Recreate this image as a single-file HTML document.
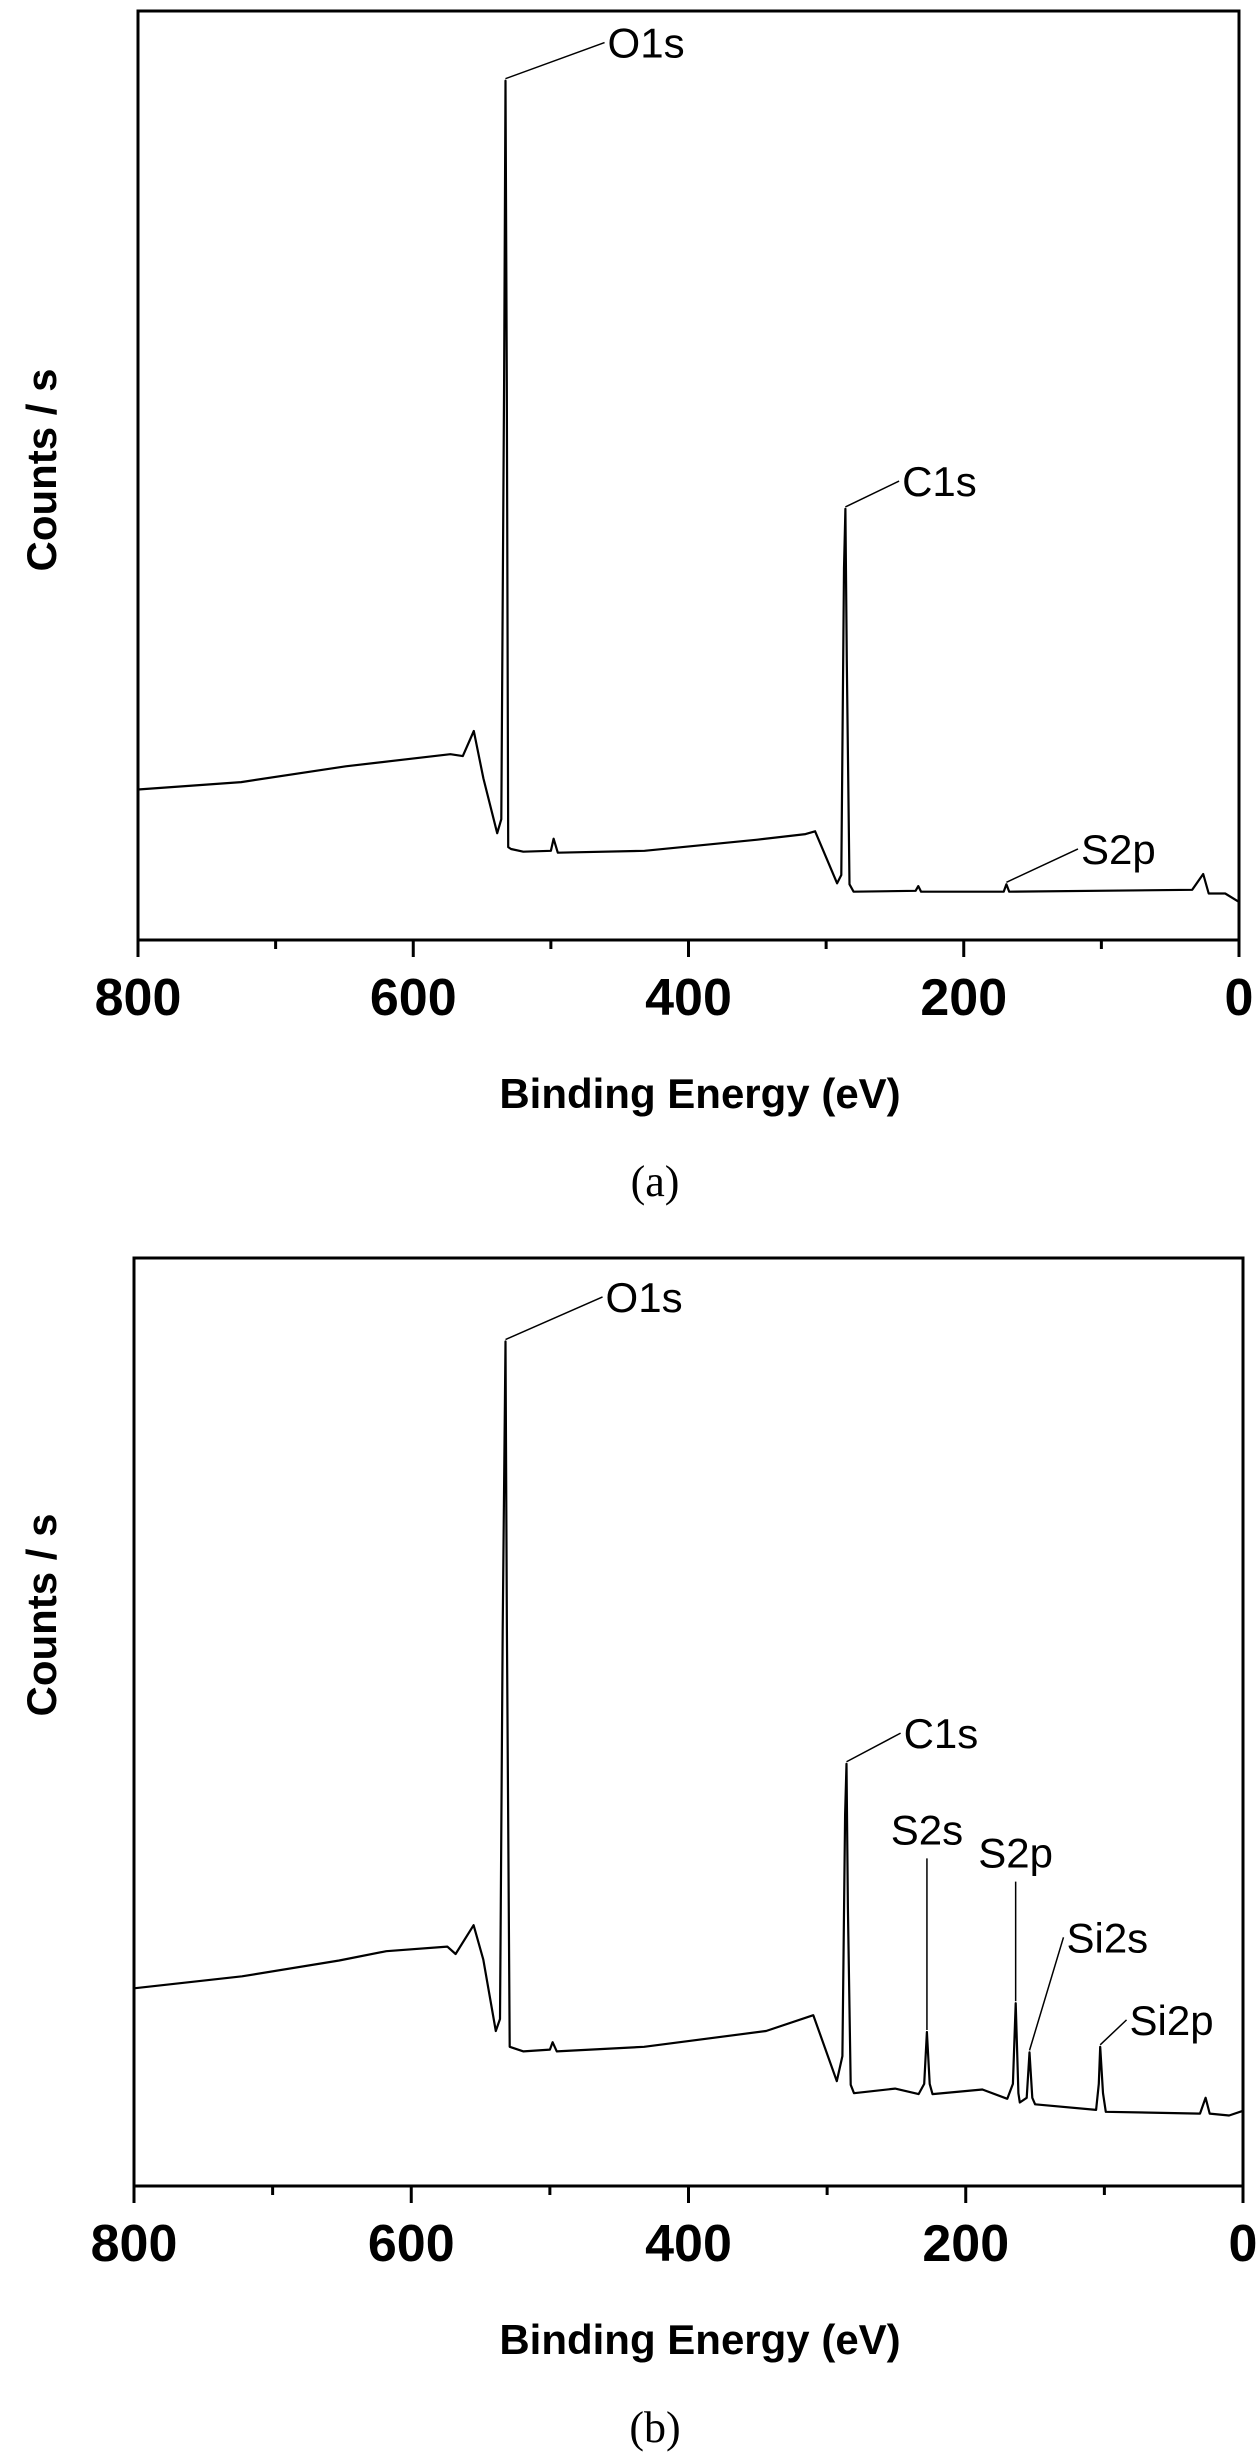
<!DOCTYPE html>
<html><head><meta charset="utf-8"><style>
body{margin:0;background:#fff}
svg{display:block}
text{font-family:"Liberation Sans",Arial,sans-serif;fill:#000}
</style></head><body>
<svg id="fig" width="1260" height="2456" viewBox="0 0 1260 2456" xmlns="http://www.w3.org/2000/svg"></svg>
<script>
const xTicks = [800, 600, 400, 200, 0];
const xMinor = [700, 500, 300, 100];
const tickLabels = ["800", "600", "400", "200", "0"];
const energiesA = [800,725,649,573,564,556,549,539,536,534,533,532,531,529,520,500,498,495,432,350,315,308,292,289,287,286,285,283,280,235,233,231,171,169,167,34,26,22,10,0];
const countsA   = [16.2,17.0,18.7,20.0,19.8,22.5,17.4,11.5,13,60,92.5,60,10,9.8,9.5,9.6,10.9,9.4,9.6,10.8,11.4,11.7,6.1,7,40,46.4,30,6,5.2,5.3,5.8,5.2,5.2,6.0,5.2,5.4,7.1,5.0,5.0,4.1];
const energiesB = [800,722,652,618,574,568,555,548,539,536,534,532,531,529,519,500,498,495,432,344,310,293,289,287,286,285,283,280.6,251,234,230,228,226,224,188,170,166,164,162,161,156,154,152,150,106,104,103,101,99,31,27,24,10,0];
const countsB   = [21.3,22.6,24.3,25.3,25.8,25,28.1,24.4,16.7,18,60,91,60,15,14.5,14.7,15.5,14.5,15.0,16.7,18.4,11.3,14,40,45.5,30,10.9,10.0,10.5,9.9,11,16.6,11,9.9,10.4,9.4,11,19.7,10,9.0,9.5,14.4,9.5,8.8,8.2,11,15.0,10,8.0,7.8,9.5,7.8,7.6,8.1];
const annotNamesA = ["O1s","C1s","S2p"];
const annotPeakA = [[533,92.5],[286,46.4],[169,6.0]];
const annotTextA = [[461,96.6],[247,49.4],[117,9.8]];
const annotNamesB = ["O1s","C1s","S2s","S2p","Si2s","Si2p"];
const annotPeakB = [[532,91],[286,45.5],[228,16.6],[164,19.7],[154,14.4],[103,15.0]];
const annotTextB = [[462,95.8],[247,48.8],[228,35.3],[164,32.8],[129.5,26.8],[84,17.9]];

const NS="http://www.w3.org/2000/svg";
const svg=document.getElementById('fig');
function mk(tag,attrs,parent){const e=document.createElementNS(NS,tag);for(const k in attrs)e.setAttribute(k,attrs[k]);(parent||svg).appendChild(e);return e;}

function panel(id,box,energies,counts,names,peaks,texts,caption,vertical,ytitleY){
  const g=mk('g',{});
  
  
  const X=e=>box.l+(800-e)/800*(box.r-box.l);
  const Y=v=>box.b-v/100*(box.b-box.t);
  const frame=mk('rect',{x:box.l,y:box.t,width:box.r-box.l,height:box.b-box.t,fill:'none',stroke:'#000','stroke-width':3},g);
  
  
  xTicks.forEach((t,i)=>{
    const tk=mk('line',{x1:X(t),x2:X(t),y1:box.b,y2:box.b+17,stroke:'#000','stroke-width':3},g);
    
    
    const lb=mk('text',{x:X(t),y:box.b+75,'text-anchor':'middle','font-size':52,'font-weight':'bold'},g);
    lb.textContent=tickLabels[i];
    
    
  });
  xMinor.forEach(t=>{
    const tk=mk('line',{x1:X(t),x2:X(t),y1:box.b,y2:box.b+9,stroke:'#000','stroke-width':3},g);
    
    
  });
  const xt=mk('text',{x:700,y:box.b+168,'text-anchor':'middle','font-size':42,'font-weight':'bold'},g);
  xt.textContent='Binding Energy (eV)';
  
  
  const yt=mk('text',{x:0,y:0,transform:`translate(56,${ytitleY}) rotate(-90)`,'text-anchor':'middle','font-size':42,'font-weight':'bold'},g);
  yt.textContent='Counts / s';
  
  
  const cap=mk('text',{x:655,y:box.b+256,'text-anchor':'middle','font-size':44,style:'font-family:"Liberation Serif",serif'},g);
  cap.textContent=caption;
  
  
  const pts=energies.map((e,i)=>X(e).toFixed(1)+','+Y(counts[i]).toFixed(1)).join(' ');
  const pl=mk('polyline',{points:pts,fill:'none',stroke:'#000','stroke-width':2.2,'stroke-linejoin':'round'},g);
  
  
  names.forEach((n,i)=>{
    const [pe,pv]=peaks[i],[te,tv]=texts[i];
    const isV=vertical&&vertical[i];
    const ln=mk('line',{x1:X(pe),y1:Y(pv)-2,x2:X(te),y2:Y(tv),stroke:'#000','stroke-width':1.5},g);
    
    
    let tx,ty,anc;
    if(isV){tx=X(te);ty=Y(tv)-14;anc='middle';}
    else{tx=X(te)+3;ty=Y(tv)+15;anc='start';}
    const t=mk('text',{x:tx,y:ty,'text-anchor':anc,'font-size':42},g);
    t.textContent=n;
    
    
  });
}
panel('a',{l:138,r:1239,t:11,b:940},energiesA,countsA,annotNamesA,annotPeakA,annotTextA,'(a)',null,470);
panel('b',{l:134,r:1243,t:1258,b:2186},energiesB,countsB,annotNamesB,annotPeakB,annotTextB,'(b)',[false,false,true,true,false,false],1615);
</script>
</body></html>
